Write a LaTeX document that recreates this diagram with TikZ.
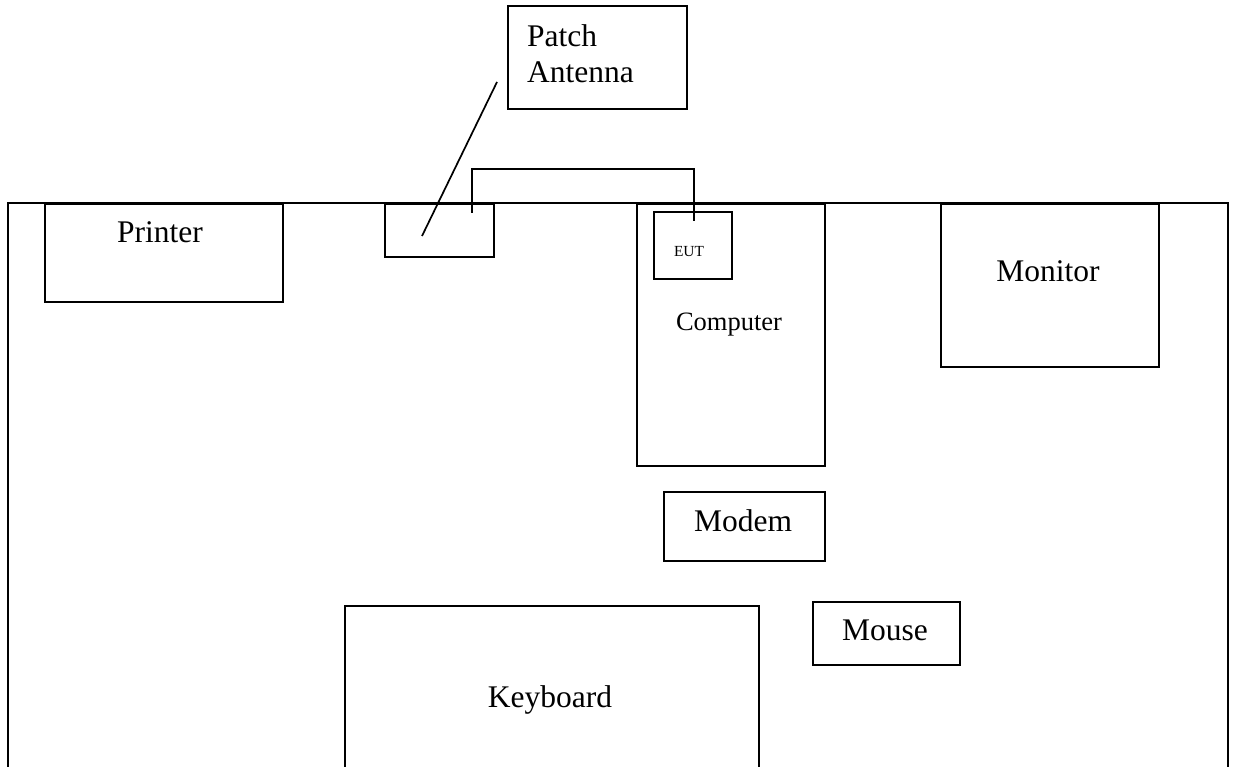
\documentclass[tikz,border=0pt]{standalone}
\usepackage{fontspec}
\setmainfont{Liberation Serif}
\begin{document}
\begin{tikzpicture}[x=1pt,y=-1pt,
  box/.style={draw, line width=1.7pt, inner sep=0pt, anchor=north west},
  wire/.style={line width=1.7pt},
  big/.style={inner sep=0pt, anchor=base, font=\fontsize{31.5}{36}\selectfont},
  mid/.style={inner sep=0pt, anchor=base, font=\fontsize{26.5}{30}\selectfont},
  small/.style={inner sep=0pt, anchor=base, font=\fontsize{15.4}{18}\selectfont}]
\useasboundingbox (0,0) rectangle (1233,767);
% outer frame (open at bottom)
\coordinate (fbl) at (8,780);
\coordinate (ftl) at (8,203);
\coordinate (ftr) at (1228,203);
\coordinate (fbr) at (1228,780);
\draw[wire] (fbl) -- (ftl) -- (ftr) -- (fbr);
% boxes
\node[box, minimum width=238pt, minimum height=98pt] (printer) at (44,203) {};
\node[box, minimum width=179pt, minimum height=103pt] (patch) at (507,5) {};
\node[box, minimum width=109pt, minimum height=53pt] (ant) at (384,203) {};
\node[box, minimum width=188pt, minimum height=262pt] (computer) at (636,203) {};
\node[box, minimum width=78pt, minimum height=67pt] (eut) at (653,211) {};
\node[box, minimum width=218pt, minimum height=163pt] (monitor) at (940,203) {};
\node[box, minimum width=161pt, minimum height=69pt] (modem) at (663,491) {};
\node[box, minimum width=147pt, minimum height=63pt] (mouse) at (812,601) {};
\node[box, minimum width=414pt, minimum height=200pt] (keyboard) at (344,605) {};
% texts
\node[big] (tprinter) at (160,243) {Printer};
\node[big, anchor=base west] (tpatch) at (527,47) {Patch};
\node[big, anchor=base west] (tantenna) at (527,83) {Antenna};
\node[small] (teut) at (689,256) {EUT};
\node[mid] (tcomputer) at (729,330) {Computer};
\node[big] (tmonitor) at (1048,281) {Monitor};
\node[big] (tmodem) at (743,531) {Modem};
\node[big] (tmouse) at (885,640) {Mouse};
\node[big] (tkeyboard) at (550,707) {Keyboard};
% antenna pointer line
\coordinate (pa) at (497,82);
\coordinate (pb) at (422,236);
\draw[wire] (pa) -- (pb);
% cable from antenna to EUT
\coordinate (c1) at (472,213);
\coordinate (c2) at (472,169);
\coordinate (c3) at (694,169);
\coordinate (c4) at (694,221);
\draw[wire] (c1) -- (c2) -- (c3) -- (c4);
\end{tikzpicture}
\end{document}
